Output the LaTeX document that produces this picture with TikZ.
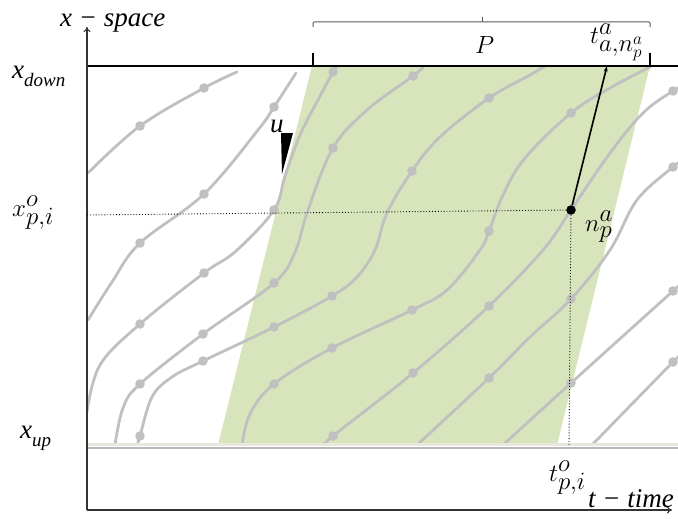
\documentclass[tikz,border=0pt]{standalone}
\usepackage{fontspec}
\setmainfont{Liberation Serif}
\usepackage{tikz}
\usetikzlibrary{arrows.meta,positioning}
\definecolor{PlotGreen}{HTML}{D8E4BC}
\definecolor{TrajGray}{HTML}{C0C0C0}
\definecolor{AxisBlack}{HTML}{000000}
\definecolor{AxisDark}{HTML}{333333}
\definecolor{BraceGray}{HTML}{595959}
\definecolor{UpBeige}{HTML}{E9E8DF}
\definecolor{UpGray}{HTML}{B8B8B8}
\newcommand{\lowidx}[2]{#1\raisebox{-0.32em}{\fontsize{19}{21}\selectfont #2}}
\tikzset{
    % Trajectory curves
    trajline/.style={
        draw=TrajGray,
        line width=2.8pt,
        line cap=round
    },
    % Marked vehicle point
    vehdot/.style={
        fill=AxisBlack,
        circle,
        inner sep=0pt,
        minimum size=9.5pt
    },
    % Axis arrow
    axisarrow/.style={
        ->,
        >={To[length=5pt,width=7pt]},
        line width=1.1pt,
        draw=AxisDark
    },
    % Arrow to the boundary
    myarrow/.style={
        ->,
        >={Stealth[length=6pt,width=4pt]},
        line width=1.6pt,
        draw=AxisBlack
    },
    % Dotted guide line
    guideline/.style={
        dotted,
        line width=0.9pt,
        draw=AxisBlack
    },
    % Text labels
    tlabel/.style={
        font=\fontsize{27}{30}\selectfont\itshape,
        inner sep=0pt
    },
    % Math labels
    mlabel/.style={
        font=\fontsize{34}{38}\selectfont,
        inner sep=0pt
    }
}

\begin{document}
\begin{tikzpicture}[x=1pt,y=-1pt]
    \useasboundingbox (0,0) rectangle (678,519);

    % region P
    \fill[PlotGreen] (312,66) -- (650,66) -- (557,445) -- (218,445) -- cycle;

    % trajectories
    \begin{scope}
        \clip (87,66) rectangle (678,445);
        \draw[trajline] plot[smooth, tension=0.6] coordinates {(88,173) (140,126) (204,88) (237,72)};
        \draw[trajline] plot[smooth, tension=0.6] coordinates {(88,320) (112,282) (140,243) (204,194) (258,130) (274,107) (296,73)};
        \draw[trajline] plot[smooth, tension=0.6] coordinates {(87,412) (100,365) (140,324) (204,273) (236,251) (274,210) (285,176) (300,135) (318,100) (333,72) (337,66)};
        \draw[trajline] plot[smooth, tension=0.6] coordinates {(115,445) (123,408) (140,384) (203,334) (274,283) (295,252) (308,210) (333,148) (367,110) (413,76) (423,67)};
        \draw[trajline] plot[smooth, tension=0.6] coordinates {(137,445) (140,436) (152,397) (172,377) (203,361) (274,327) (332,296) (357,277) (375,250) (387,213) (412,171) (440,137) (489,98) (530,75) (545,66)};
        \draw[trajline] plot[smooth, tension=0.6] coordinates {(242,445) (250,414) (274,384) (332,348) (412,310) (447,290) (480,250) (489,231) (503,195) (525,158) (571,113) (610,88) (650,67)};
        \draw[trajline] plot[smooth, tension=0.6] coordinates {(325,445) (333,436) (413,373) (489,306) (543,250) (571,210) (610,153) (643,113) (673,91) (690,82)};
        \draw[trajline] plot[smooth, tension=0.6] coordinates {(417,445) (489,378) (530,337) (571,299) (610,250) (637,200) (673,167) (690,155)};
        \draw[trajline] plot[smooth, tension=0.6] coordinates {(503,445) (571,383) (673,291) (690,276)};
        \draw[trajline] plot[smooth, tension=0.6] coordinates {(592,445) (673,362) (690,346)};
        \foreach \px/\py in {140/126, 204/88, 140/243, 204/194, 274/107, 140/324, 204/273, 274/210, 333/72,
            140/384, 203/334, 274/283, 333/148, 413/76, 140/436, 203/361, 274/327, 332/296, 412/171, 489/98,
            274/384, 332/348, 412/310, 489/231, 571/113, 333/436, 413/373, 489/306, 673/91,
            489/378, 571/299, 673/167, 571/383, 673/291, 673/362}
            \fill[TrajGray] (\px,\py) circle[radius=4.8pt];
    \end{scope}

    % boundaries
    \draw[line width=2.8pt, draw=AxisBlack] (87,66) -- (678,66);
    \draw[line width=3pt, draw=UpBeige] (87,444.5) -- (678,444.5);
    \draw[line width=2pt, draw=UpGray] (87,447.5) -- (678,447.5);
    \draw[line width=1.3pt] (313,53) -- (313,66);
    \draw[line width=1.3pt] (650,53) -- (650,66);

    % brace of P
    \draw[BraceGray, line width=1pt, rounded corners=1pt] (313,27) -- (313,22) -- (650,22) -- (650,27);
    \draw[BraceGray, line width=1pt] (482,22) -- (482,17);

    % axes
    \coordinate (orig) at (87,510);
    \coordinate (ytip) at (87,27);
    \coordinate (xtip) at (672,510);
    \draw[axisarrow] (orig) -- (ytip);
    \draw[axisarrow] (orig) -- (xtip);

    % vehicle point
    \node[vehdot] (np) at (571,210) {};
    \coordinate (ta) at (607,66);
    \coordinate (xo) at (87,215);
    \coordinate (to) at (569,445);
    \draw[guideline] (xo) -- (np);
    \draw[guideline] (np) -- (to);
    \draw[myarrow] (np) -- (ta);

    % marker u
    \fill[AxisBlack] (281,133) -- (293,133) -- (282,174) -- cycle;

    % labels
    \node[tlabel, anchor=base west] (lxs) at (60,27) {x − space};
    \node[tlabel, anchor=base west] (lxd) at (12,78) {\lowidx{x}{down}};
    \node[tlabel, anchor=base west] (lxu) at (20,438) {\lowidx{x}{up}};
    \node[tlabel, anchor=base west] (lu) at (270,132) {u};
    \node[tlabel, anchor=base west] (ltt) at (588,507) {t − time};
    \node[mlabel, anchor=base west] (lxo) at (12,216) {$x^{o}_{p,i}$};
    \node[mlabel, anchor=base west] (lto) at (549,481) {$t^{o}_{p,i}$};
    \node[mlabel, anchor=base west] (lnp) at (585,231) {$n^{a}_{p}$};
    \node[mlabel, anchor=base west] (lta) at (590,44) {$t^{a}_{a,n^{a}_{p}}$};
    \node[mlabel, anchor=base west] (lP) at (475,54) {$P$};
\end{tikzpicture}
\end{document}
